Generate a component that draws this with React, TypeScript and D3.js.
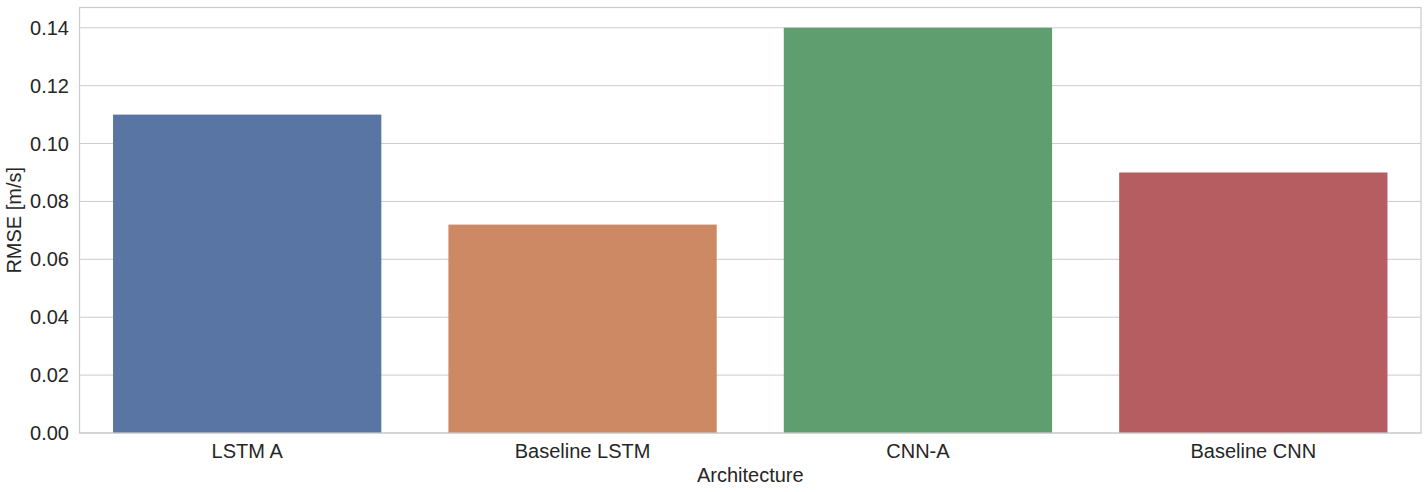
import React from "react";
import * as d3 from "d3";

const categories = ["LSTM A", "Baseline LSTM", "CNN-A", "Baseline CNN"];
const values = [0.11, 0.072, 0.14, 0.09];
const colors = ["#5975a4", "#cc8963", "#5f9e6e", "#b55d60"];
const yTicks = [0, 0.02, 0.04, 0.06, 0.08, 0.1, 0.12, 0.14];

const W = 1428;
const H = 492;
const left = 79.5;
const right = 1421;
const top = 7.5;
const bottom = 433;

export default function App() {
  const x = d3.scaleBand<string>().domain(categories).range([left, right]).paddingInner(0.2).paddingOuter(0.1);
  const y = d3.scaleLinear().domain([0, 0.147]).range([bottom, top]);
  const font = "'Liberation Sans', Arial, sans-serif";
  const txt = "#262626";
  return (
    <div style={{ position: "absolute", left: 0, top: 0 }}>
      <svg width={W} height={H} style={{ display: "block", background: "#fff" }}>
        {yTicks.map((t) => (
          <g key={t}>
            <line x1={left} x2={right} y1={y(t)} y2={y(t)} stroke="#cccccc" strokeWidth={1} />
            <text x={69} y={y(t)} dy="0.35em" textAnchor="end" fontFamily={font} fontSize={20} fill={txt}>
              {d3.format(".2f")(t)}
            </text>
          </g>
        ))}
        {categories.map((c, i) => (
          <g key={c}>
            <rect x={x(c)} y={y(values[i])} width={x.bandwidth()} height={y(0) - y(values[i])} fill={colors[i]} />
            <text x={x(c)! + x.bandwidth() / 2} y={458} textAnchor="middle" fontFamily={font} fontSize={20} fill={txt}>
              {c}
            </text>
          </g>
        ))}
        <rect x={left} y={top} width={right - left} height={bottom - top} fill="none" stroke="#cccccc" strokeWidth={1.25} />
        <text x={(left + right) / 2} y={482} textAnchor="middle" fontFamily={font} fontSize={20} fill={txt}>
          Architecture
        </text>
        <text transform={`translate(21,${(top + bottom) / 2}) rotate(-90)`} textAnchor="middle" fontFamily={font} fontSize={20} fill={txt}>
          RMSE [m/s]
        </text>
      </svg>
    </div>
  );
}
